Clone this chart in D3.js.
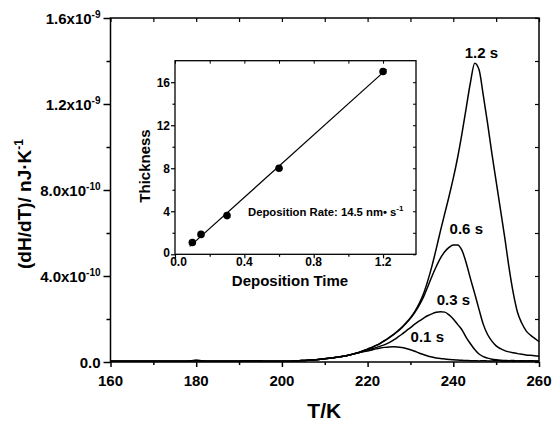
<!DOCTYPE html>
<html>
<head>
<meta charset="utf-8">
<script src="https://cdn.jsdelivr.net/npm/d3@7"></script>
<style>
  html, body { margin: 0; padding: 0; background: #fff; }
  svg { display: block; font-family: "Liberation Sans", Arial, Helvetica, sans-serif; font-weight: bold; }
</style>
</head>
<body>
<svg id="chart" width="553" height="424"></svg>
<script>
// ---- Heat-flow curves: temperature grid (K) and dH/dT in units of 1e-9 nJ/K ----
const temps = [
  160,162,164,166,168,170,172,174,176,178,180,182,184,186,188,190,192,194,196,198,
  200,202,204,206,208,210,212,214,216,218,
  220,221,222,223,224,225,226,227,228,229,230,231,232,233,234,235,236,237,238,239,
  240,241,242,243,244,245,246,247,248,249,250,251,252,253,254,255,256,257,258,259,260
];

// shared low-temperature part (160–218 K)
const baseline = [
  0.004,0.003,0.004,0.003,0.004,0.003,0.004,0.003,0.004,0.004,0.007,0.004,0.003,0.004,0.003,
  0.004,0.005,0.006,0.004,0.003,0.003,0.004,0.006,0.008,0.011,0.015,0.020,0.026,0.034,0.044
];

const dep12 = baseline.concat([
  0.060,0.068,0.077,0.088,0.100,0.114,0.128,0.144,0.162,0.183,0.206,0.234,0.270,0.315,0.375,
  0.445,0.525,0.610,0.690,0.770,0.855,0.950,1.060,1.180,1.300,1.390,1.360,1.240,1.110,0.970,
  0.840,0.710,0.580,0.440,0.320,0.230,0.180,0.145,0.125,0.110,0.095
]);
const dep06 = baseline.concat([
  0.060,0.068,0.077,0.087,0.099,0.112,0.126,0.142,0.160,0.180,0.203,0.230,0.262,0.300,0.348,
  0.398,0.443,0.483,0.513,0.533,0.544,0.544,0.520,0.462,0.388,0.318,0.245,0.175,0.128,0.097,
  0.075,0.062,0.053,0.047,0.043,0.039,0.036,0.033,0.031,0.029,0.027
]);
const dep03 = baseline.concat([
  0.057,0.062,0.067,0.074,0.081,0.090,0.102,0.115,0.129,0.145,0.160,0.176,0.190,0.203,0.215,
  0.224,0.231,0.234,0.232,0.219,0.200,0.175,0.150,0.115,0.085,0.058,0.037,0.025,0.018,0.013,
  0.010,0.008,0.007,0.006,0.007,0.005,0.006,0.005,0.006,0.005,0.005
]);
const dep01 = baseline.concat([
  0.051,0.056,0.061,0.065,0.068,0.070,0.071,0.070,0.067,0.063,0.057,0.050,0.042,0.035,0.028,
  0.023,0.019,0.016,0.014,0.012,0.010,0.009,0.008,0.007,0.006,0.006,0.005,0.006,0.005,0.005,
  0.006,0.005,0.004,0.005,0.004,0.005,0.004,0.005,0.004,0.005,0.004
]);
const seriesNames = ["1.2 s", "0.6 s", "0.3 s", "0.1 s"];
const seriesValues = [dep12, dep06, dep03, dep01];
const valueUnit = 1e-9;

// axis ticks of the main plot
const xTicks = [160, 180, 200, 220, 240, 260];
const xMinorTicks = [170, 190, 210, 230, 250];
const yTicks = [0, 4e-10, 8e-10, 1.2e-9, 1.6e-9];
const yTickMantissa = ["0.0", "4.0x10", "8.0x10", "1.2x10", "1.6x10"];
const yTickExponent = ["", "-10", "-10", "-9", "-9"];
const yMinorTicks = [2e-10, 6e-10, 1.0e-9, 1.4e-9];

// ---- Inset: film thickness vs deposition time ----
const depositionTime = [0.1, 0.15, 0.3, 0.6, 1.2];
const thickness = [1.1, 1.85, 3.6, 8.0, 17.0];
const depositionRate = 14.5;      // slope of the linear fit, nm per s
const fitIntercept = -0.5;
const fitRange = [0.085, 1.22];
const insetXTicks = [0.0, 0.4, 0.8, 1.2];
const insetXMinor = [0.2, 0.6, 1.0];
const insetYTicks = [0, 4, 8, 12, 16];
const insetYMinor = [2, 6, 10, 14];

// ---------------------------------------------------------------
const svg = d3.select("#chart");
const plot = { left: 110.5, right: 539, top: 18, bottom: 362 };

const x = d3.scaleLinear().domain([160, 260]).range([plot.left, plot.right]);
const y = d3.scaleLinear().domain([0, 1.6e-9]).range([plot.bottom, plot.top]);

function styleAxis(g, width) {
  g.select(".domain").remove();
  g.selectAll("line").attr("stroke", "#000").attr("stroke-width", width);
  g.selectAll("text").remove();
}

// curves
const line = d3.line()
  .x((d, i) => x(temps[i]))
  .y(d => y(d * valueUnit))
  .curve(d3.curveMonotoneX);

svg.append("g").selectAll("path")
  .data(seriesValues)
  .join("path")
  .attr("d", d => line(d))
  .attr("fill", "none")
  .attr("stroke", "#000")
  .attr("stroke-width", 1.5)
  .attr("stroke-linejoin", "round");

// frame
svg.append("rect")
  .attr("x", plot.left).attr("y", plot.top)
  .attr("width", plot.right - plot.left).attr("height", plot.bottom - plot.top)
  .attr("fill", "none").attr("stroke", "#000").attr("stroke-width", 1.5);

// bottom axis (outward ticks)
svg.append("g").attr("transform", `translate(0,${plot.bottom})`)
  .call(d3.axisBottom(x).tickValues(xTicks).tickSize(5)).call(g => styleAxis(g, 1.5));
svg.append("g").attr("transform", `translate(0,${plot.bottom})`)
  .call(d3.axisBottom(x).tickValues(xMinorTicks).tickSize(3)).call(g => styleAxis(g, 1.5));
// top axis (inward ticks)
svg.append("g").attr("transform", `translate(0,${plot.top})`)
  .call(d3.axisTop(x).tickValues(xTicks.concat(xMinorTicks)).tickSize(-4)).call(g => styleAxis(g, 1.2));
// left axis (outward ticks)
svg.append("g").attr("transform", `translate(${plot.left},0)`)
  .call(d3.axisLeft(y).tickValues(yTicks).tickSize(7)).call(g => styleAxis(g, 1.5));
svg.append("g").attr("transform", `translate(${plot.left},0)`)
  .call(d3.axisLeft(y).tickValues(yMinorTicks).tickSize(4)).call(g => styleAxis(g, 1.5));
// right axis (inward ticks)
svg.append("g").attr("transform", `translate(${plot.right},0)`)
  .call(d3.axisLeft(y).tickValues(yTicks.concat(yMinorTicks)).tickSize(4)).call(g => styleAxis(g, 1.2));

// x tick labels
svg.append("g").selectAll("text")
  .data(xTicks).join("text")
  .attr("x", d => x(d)).attr("y", plot.bottom + 24)
  .attr("text-anchor", "middle").attr("font-size", 15)
  .text(d => d);

// y tick labels with superscript exponents
const yLab = svg.append("g").selectAll("text")
  .data(yTicks).join("text")
  .attr("x", plot.left - 10).attr("y", d => y(d) + 6)
  .attr("text-anchor", "end").attr("font-size", 15);
yLab.append("tspan").text((d, i) => yTickMantissa[i]);
yLab.append("tspan").attr("font-size", 10).attr("dy", -6).text((d, i) => yTickExponent[i]);

// axis titles
svg.append("text")
  .attr("x", (plot.left + plot.right) / 2 - 0.5).attr("y", 418)
  .attr("text-anchor", "middle").attr("font-size", 21)
  .text("T/K");

const yTitle = svg.append("text")
  .attr("transform", "translate(31,204) rotate(-90)")
  .attr("text-anchor", "middle").attr("font-size", 19);
yTitle.append("tspan").text("(dH/dT)/ nJ\u00B7K");
yTitle.append("tspan").attr("font-size", 12).attr("dy", -8).text("-1");

// curve labels placed relative to each curve's maximum
const labelOffsets = [[6.6, -5], [13, -11], [13, -7], [34, -5]];
seriesValues.forEach((vals, k) => {
  const i = d3.maxIndex(vals);
  svg.append("text")
    .attr("x", x(temps[i]) + labelOffsets[k][0])
    .attr("y", y(vals[i] * valueUnit) + labelOffsets[k][1])
    .attr("text-anchor", "middle").attr("font-size", 15)
    .text(seriesNames[k]);
});

// ---------------- inset ----------------
const inset = { left: 175, right: 416, top: 60.7, bottom: 254.3 };
const ix = d3.scaleLinear().domain([0, 1.39]).range([inset.left, inset.right]);
const iy = d3.scaleLinear().domain([0, 18]).range([inset.bottom, inset.top]);

svg.append("rect")
  .attr("x", inset.left).attr("y", inset.top)
  .attr("width", inset.right - inset.left).attr("height", inset.bottom - inset.top)
  .attr("fill", "#fff").attr("stroke", "#000").attr("stroke-width", 1.3);

svg.append("g").attr("transform", `translate(0,${inset.bottom})`)
  .call(d3.axisBottom(ix).tickValues(insetXTicks).tickSize(4)).call(g => styleAxis(g, 1.2));
svg.append("g").attr("transform", `translate(0,${inset.bottom})`)
  .call(d3.axisBottom(ix).tickValues(insetXMinor).tickSize(2.5)).call(g => styleAxis(g, 1.2));
svg.append("g").attr("transform", `translate(0,${inset.top})`)
  .call(d3.axisTop(ix).tickValues(insetXTicks.concat(insetXMinor)).tickSize(-3)).call(g => styleAxis(g, 1));
svg.append("g").attr("transform", `translate(${inset.left},0)`)
  .call(d3.axisLeft(iy).tickValues(insetYTicks).tickSize(4)).call(g => styleAxis(g, 1.2));
svg.append("g").attr("transform", `translate(${inset.left},0)`)
  .call(d3.axisLeft(iy).tickValues(insetYMinor).tickSize(2.5)).call(g => styleAxis(g, 1.2));
svg.append("g").attr("transform", `translate(${inset.right},0)`)
  .call(d3.axisLeft(iy).tickValues(insetYTicks.concat(insetYMinor)).tickSize(3)).call(g => styleAxis(g, 1));

// the label at the origin is nudged right so it clears the "0" of the y axis
svg.append("g").selectAll("text")
  .data(insetXTicks).join("text")
  .attr("x", (d, i) => ix(d) + (i === 0 ? 3.5 : 0)).attr("y", inset.bottom + 11.5)
  .attr("text-anchor", "middle").attr("font-size", 12)
  .text(d => d.toFixed(1));
svg.append("g").selectAll("text")
  .data(insetYTicks).join("text")
  .attr("x", inset.left - 5).attr("y", (d, i) => iy(d) + (i === 0 ? 2.5 : 4.3))
  .attr("text-anchor", "end").attr("font-size", 12)
  .text(d => d);

svg.append("text")
  .attr("x", 290).attr("y", 286)
  .attr("text-anchor", "middle").attr("font-size", 15)
  .text("Deposition Time");
svg.append("text")
  .attr("transform", "translate(150,166) rotate(-90)")
  .attr("text-anchor", "middle").attr("font-size", 15)
  .text("Thickness");

// linear fit and measured points
svg.append("line")
  .attr("x1", ix(fitRange[0])).attr("y1", iy(depositionRate * fitRange[0] + fitIntercept))
  .attr("x2", ix(fitRange[1])).attr("y2", iy(depositionRate * fitRange[1] + fitIntercept))
  .attr("stroke", "#000").attr("stroke-width", 1.2);

svg.append("g").selectAll("circle")
  .data(depositionTime).join("circle")
  .attr("cx", d => ix(d)).attr("cy", (d, i) => iy(thickness[i]))
  .attr("r", 3.8).attr("fill", "#000");

const rateLabel = svg.append("text")
  .attr("x", 248).attr("y", 216).attr("font-size", 11.3);
rateLabel.append("tspan").text(`Deposition Rate: ${depositionRate} nm\u2022 s`);
rateLabel.append("tspan").attr("font-size", 8).attr("dy", -5).text("-1");
</script>
</body>
</html>
